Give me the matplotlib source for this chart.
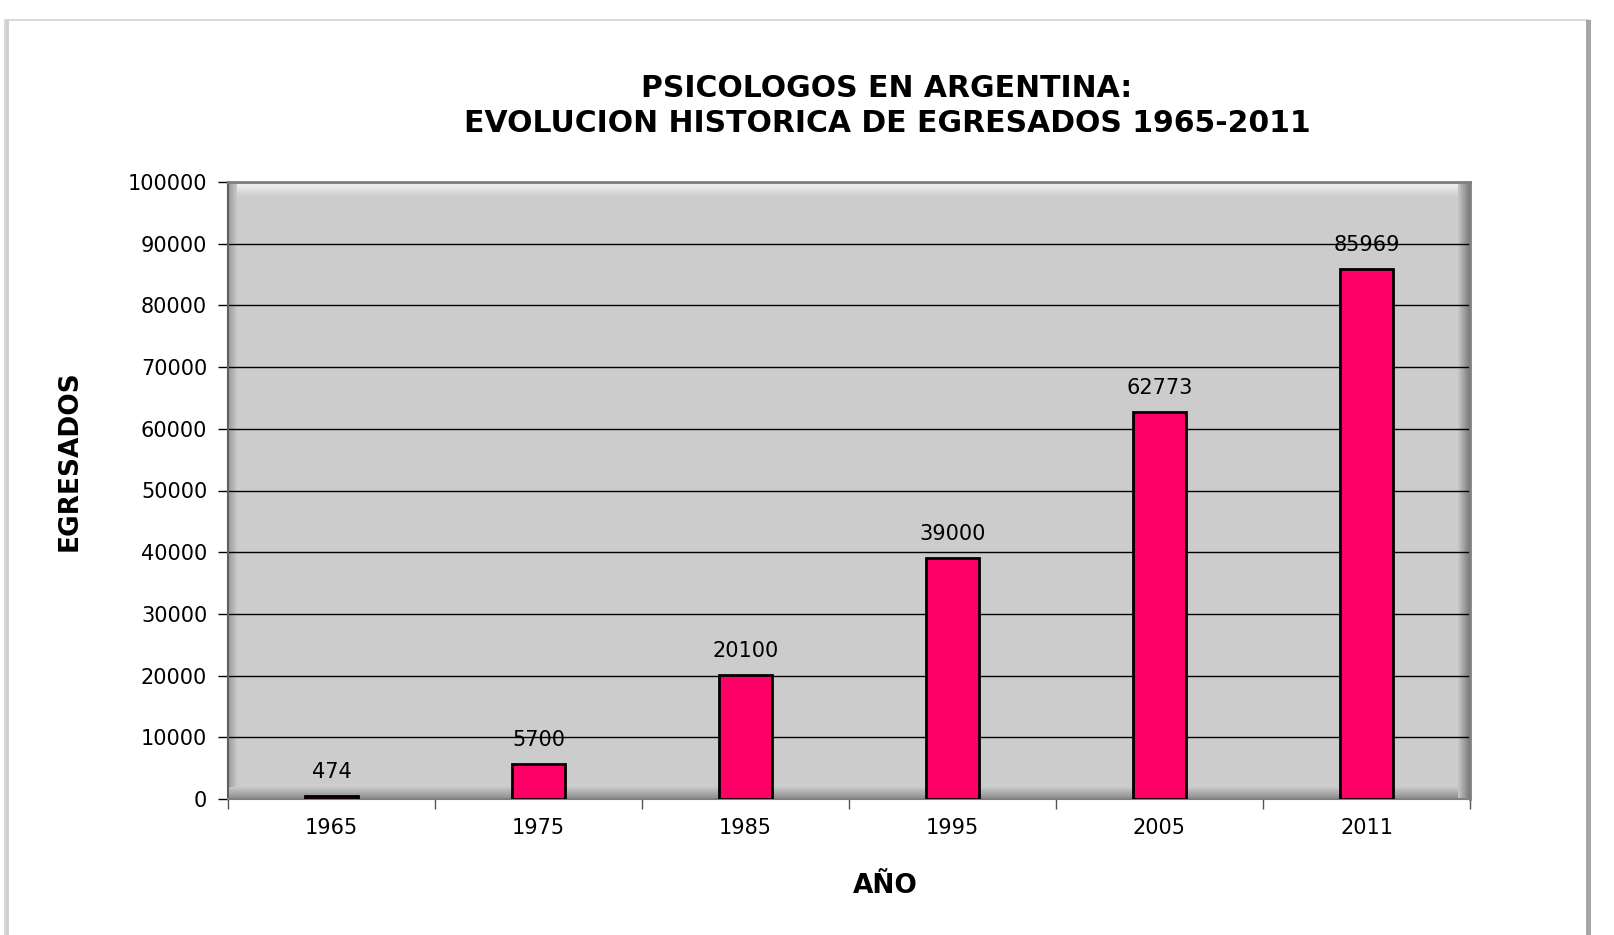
import numpy as np
import matplotlib.pyplot as plt
from matplotlib.patches import Rectangle
from matplotlib.colors import to_rgb

# data
years = ["1965", "1975", "1985", "1995", "2005", "2011"]
graduates = [474, 5700, 20100, 39000, 62773, 85969]
yticks = [0, 10000, 20000, 30000, 40000, 50000, 60000, 70000, 80000, 90000, 100000]

fig = plt.figure(figsize=(16.14, 9.35), dpi=100)

# outer chart frame with a bit of shadow on the right
fig.patches.append(Rectangle((5 / 1614, -0.05), (1583 / 1614), 1 - 20 / 935 + 0.05,
                             transform=fig.transFigure, fill=False,
                             edgecolor="#d9d9d9", linewidth=1.5))
fig.patches.append(Rectangle((1586 / 1614, -0.05), 5 / 1614, 1 - 20 / 935 + 0.05,
                             transform=fig.transFigure, facecolor="#a6a6a6",
                             edgecolor="none"))
fig.patches.append(Rectangle((6 / 1614, -0.05), 3 / 1614, 1 - 21 / 935 + 0.05,
                             transform=fig.transFigure, facecolor="#d0d0d0",
                             edgecolor="none"))

AX_W, AX_H = 1242, 617
ax = fig.add_axes([228 / 1614, 1 - 799 / 935, AX_W / 1614, AX_H / 935])
ax.set_facecolor("#cccccc")

x = np.arange(len(years))
ax.bar(x, graduates, width=0.26, color="#ff0066", edgecolor="black",
       linewidth=2, zorder=3)

for xi, v in zip(x, graduates):
    ax.annotate(str(v), (xi, v), xytext=(0, 10), textcoords="offset points",
                ha="center", va="bottom", fontsize=15, color="black", zorder=4)

ax.set_xlim(-0.5, len(years) - 0.5)
ax.set_ylim(0, 100000)
ax.set_yticks(yticks)
ax.set_yticklabels([str(t) for t in yticks], fontsize=15)
ax.yaxis.grid(True, color="black", linewidth=1, zorder=1)
ax.set_axisbelow(True)

ax.set_xticks(x)
ax.set_xticklabels(years, fontsize=15)
ax.set_xticks(np.arange(-0.5, len(years)), minor=True)
ax.tick_params(axis="x", which="major", length=0, pad=14)
ax.tick_params(axis="x", which="minor", length=7, width=1, color="#555555",
               direction="out")
ax.tick_params(axis="y", length=7, width=1, direction="out", pad=8)


# soft bevel on the plot area, drawn as thin strips fading into the fill
def fade(side, px, c_edge, c_inner="#cccccc", n=12):
    a, b = np.array(to_rgb(c_edge)), np.array(to_rgb(c_inner))
    for i in range(n):
        c = a + (b - a) * i / n
        step = px / n
        if side in ("left", "right"):
            w = step / AX_W
            x0 = i * w if side == "left" else 1 - (i + 1) * w
            ax.add_patch(Rectangle((x0, 0), w, 1, transform=ax.transAxes,
                                   facecolor=c, edgecolor="none", zorder=0.5))
        else:
            h = step / AX_H
            y0 = i * h if side == "bottom" else 1 - (i + 1) * h
            ax.add_patch(Rectangle((0, y0), 1, h, transform=ax.transAxes,
                                   facecolor=c, edgecolor="none", zorder=0.5))


fade("top", 14, "#f4f4f4")
fade("left", 9, "#9a9a9a")
fade("bottom", 12, "#8c8c8c")
fade("right", 12, "#7a7a7a")

for side in ["top", "right"]:
    ax.spines[side].set_color("#808080")
    ax.spines[side].set_linewidth(2)
ax.spines["left"].set_color("#606060")
ax.spines["bottom"].set_color("#808080")
ax.spines["left"].set_linewidth(1.5)
ax.spines["bottom"].set_linewidth(1.5)

fig.text(887 / 1614, 1 - 106 / 935,
         "PSICOLOGOS EN ARGENTINA:\nEVOLUCION HISTORICA DE EGRESADOS 1965-2011",
         ha="center", va="center", fontsize=21.5, fontweight="bold",
         linespacing=1.28)
fig.text(885 / 1614, 1 - 886 / 935, "AÑO", ha="center", va="center",
         fontsize=19, fontweight="bold")
fig.text(70 / 1614, 1 - 461 / 935, "EGRESADOS", ha="center", va="center",
         rotation=90, fontsize=19, fontweight="bold")

fig.savefig("out.png", dpi=100, facecolor="white")
